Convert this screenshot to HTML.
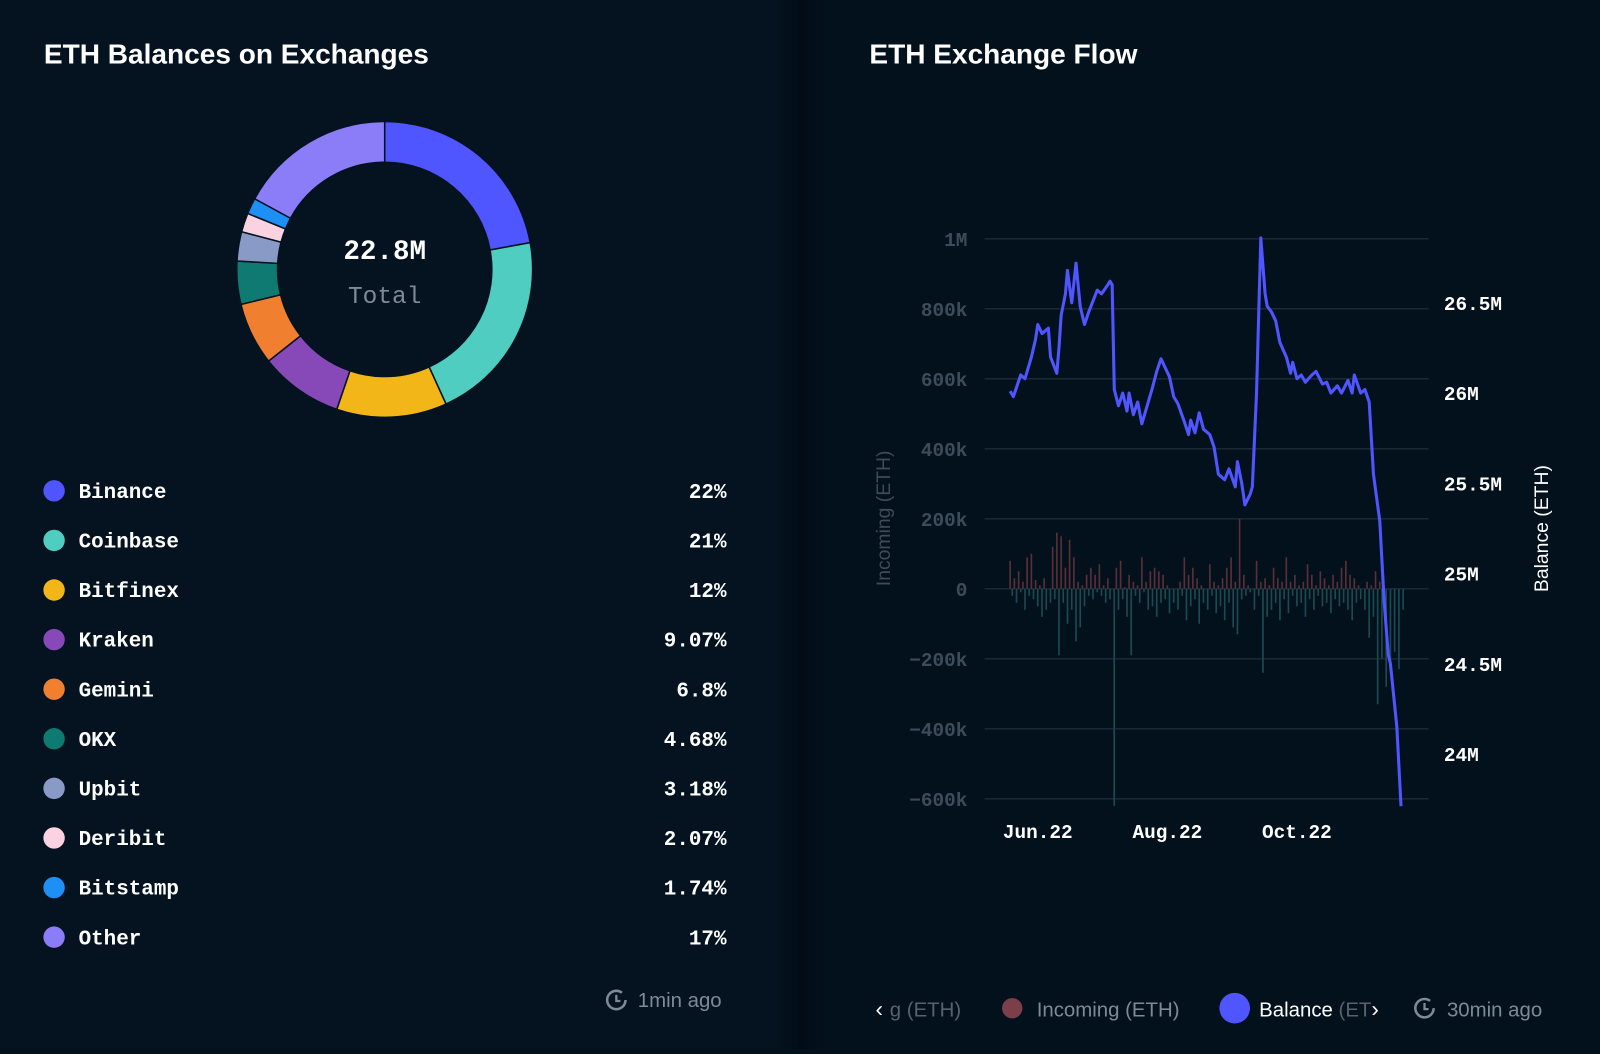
<!DOCTYPE html>
<html><head><meta charset="utf-8">
<style>
html,body{margin:0;padding:0;width:1600px;height:1049px;overflow:hidden;background:#03111d;}
#wrap{position:absolute;left:0;top:0;width:1568px;height:1028px;transform:scale(1.020408);transform-origin:0 0;}
.mono{font-family:"Liberation Mono","DejaVu Sans Mono",monospace;}
.sans{font-family:"Liberation Sans","DejaVu Sans",sans-serif;}
</style></head>
<body>
<div id="wrap">
<svg width="1568" height="1028" viewBox="0 0 1568 1028" xmlns="http://www.w3.org/2000/svg">
  <defs>
    <linearGradient id="div" x1="0" x2="1" y1="0" y2="0">
      <stop offset="0" stop-color="#04131f"/>
      <stop offset="0.5" stop-color="#020c16"/>
      <stop offset="1" stop-color="#03111d"/>
    </linearGradient>
  </defs>
  <rect x="0" y="0" width="760" height="1028" fill="#04131f"/>
  <rect x="760" y="0" width="50" height="1028" fill="url(#div)"/>
  <rect x="810" y="0" width="758" height="1028" fill="#03111d"/>

  <text x="43" y="62" class="sans" font-size="27.5" font-weight="bold" fill="#ffffff">ETH Balances on Exchanges</text>
  <text x="852" y="62" class="sans" font-size="27.5" font-weight="bold" fill="#ffffff">ETH Exchange Flow</text>

  <g id="donut"></g>
  <text x="377" y="254" text-anchor="middle" class="mono" font-size="27" font-weight="bold" fill="#ffffff">22.8M</text>
  <text x="377" y="297" text-anchor="middle" class="mono" font-size="24" fill="#7d8b96">Total</text>

  <g id="legend"></g>

  <g>
    <circle cx="604" cy="980" r="9" fill="none" stroke="#7d8b96" stroke-width="2.5" stroke-dasharray="48 9"/>
    <path d="M604 975 V981 H608" fill="none" stroke="#7d8b96" stroke-width="2.2"/>
    <text x="625" y="987" class="sans" font-size="20" fill="#7d8b96">1min ago</text>
  </g>

  <g id="flow"></g>

  <g>
    <text x="858" y="996" class="sans" font-size="22" fill="#ffffff">‹</text>
    <text x="872" y="996" class="sans" font-size="20" fill="#56636e">g (ETH)</text>
    <circle cx="992" cy="988" r="10" fill="#7a3f48"/>
    <text x="1016" y="996" class="sans" font-size="20" fill="#7d8b96">Incoming (ETH)</text>
    <circle cx="1210" cy="988" r="15" fill="#4f56ff"/>
    <text x="1234" y="996" class="sans" font-size="20" fill="#ffffff">Balance <tspan fill="#56636e">(ET</tspan></text>
    <text x="1344" y="996" class="sans" font-size="22" fill="#ffffff">›</text>
    <circle cx="1396" cy="988" r="9" fill="none" stroke="#7d8b96" stroke-width="2.5" stroke-dasharray="48 9"/>
    <path d="M1396 983 V989 H1400" fill="none" stroke="#7d8b96" stroke-width="2.2"/>
    <text x="1418" y="996" class="sans" font-size="20" fill="#7d8b96">30min ago</text>
  </g>
</svg>
</div>
<script>
const NS="http://www.w3.org/2000/svg";
function mk(tag,attrs,parent){const e=document.createElementNS(NS,tag);for(const k in attrs)e.setAttribute(k,attrs[k]);parent.appendChild(e);return e;}

// ---- Donut data ----
const exchanges=["Binance","Coinbase","Bitfinex","Kraken","Gemini","OKX","Upbit","Deribit","Bitstamp","Other"];
const shares=[22,21,12,9.07,6.8,4.68,3.18,2.07,1.74,17];
const shareLabels=["22%","21%","12%","9.07%","6.8%","4.68%","3.18%","2.07%","1.74%","17%"];
const colors=["#4f56ff","#4ecdc0","#f2b619","#8748b8","#f07f30","#0f7a72","#8a9ac6","#fbd3e0","#1d8ff5","#8b7cf7"];

const donut=document.getElementById('donut');
const cx=377,cy=264,R=145,r=105;
const total=shares.reduce((a,b)=>a+b,0);
let a0=-Math.PI/2;
shares.forEach((v,i)=>{
  const a1=a0+v/total*2*Math.PI;
  const large=(a1-a0)>Math.PI?1:0;
  const p=(ang,rad)=>[cx+rad*Math.cos(ang),cy+rad*Math.sin(ang)];
  const [x0,y0]=p(a0,R),[x1,y1]=p(a1,R),[x2,y2]=p(a1,r),[x3,y3]=p(a0,r);
  const el=mk('path',{d:`M${x0} ${y0} A${R} ${R} 0 ${large} 1 ${x1} ${y1} L${x2} ${y2} A${r} ${r} 0 ${large} 0 ${x3} ${y3}Z`,fill:colors[i],stroke:"#04131f","stroke-width":1.5},donut);
  
  
  a0=a1;
});

const legend=document.getElementById('legend');
exchanges.forEach((n,i)=>{
  const y=481+48.6*i;
  const g=mk('g',{},legend);
  
  
  mk('circle',{cx:53,cy:y,r:10.5,fill:colors[i]},g);
  const t=mk('text',{x:77,y:y+7,class:'mono','font-size':20.5,'font-weight':'bold',fill:'#ffffff'},g);t.textContent=n;
  const p=mk('text',{x:712,y:y+7,class:'mono','font-size':20.5,'font-weight':'bold',fill:'#ffffff','text-anchor':'end'},g);p.textContent=shareLabels[i];
});

// ---- Flow chart data ----
const leftTicks=[1000,800,600,400,200,0,-200,-400,-600];
const leftTickLabels=["1M","800k","600k","400k","200k","0","\u2212200k","\u2212400k","\u2212600k"];
const rightTicks=[26.5,26,25.5,25,24.5,24];
const rightTickLabels=["26.5M","26M","25.5M","25M","24.5M","24M"];
const xTickDays=[0,61,122];
const xTickLabels=["Jun.22","Aug.22","Oct.22"];
// balance line: day offset from Jun 1, balance in M ETH
const balDays=[-13,-11.5,-8,-6,-3,-1,0,2,5,6,9,10,11,13,14,16,18,20,22,24,28,30,33,34,35,36,38,40,42,43,45,47,49,52,54,56,58,60,62,64,66,69,71,72,74,76,78,81,83,85,88,90,93,94,96,97.5,100,101,103,105,107,108,110,112,114,117,119,120,122,124,126,129,131,134,136,138,141,143,146,148,149,152,154,156,158,161,163,165,166,169,171];
const balVals=[26.01,25.98,26.1,26.08,26.2,26.3,26.38,26.33,26.36,26.2,26.11,26.25,26.43,26.55,26.68,26.5,26.72,26.48,26.38,26.45,26.57,26.55,26.6,26.62,26.6,26.02,25.93,26.0,25.9,26.0,25.88,25.95,25.83,25.95,26.03,26.12,26.19,26.14,26.09,25.98,25.94,25.84,25.77,25.85,25.78,25.89,25.8,25.77,25.7,25.55,25.52,25.58,25.48,25.62,25.5,25.38,25.44,25.48,26.0,26.86,26.55,26.48,26.45,26.4,26.28,26.2,26.11,26.17,26.08,26.1,26.06,26.1,26.12,26.05,26.06,26.0,26.04,26.0,26.07,26.0,26.1,26.0,26.02,25.95,25.55,25.29,24.85,24.55,24.5,24.15,23.71];
// daily net flows (k ETH), one bar every 2 days from day -13
const barStart=-13;
const incoming=[80,30,50,20,90,100,25,10,30,0,120,160,150,60,140,90,20,10,40,60,40,70,10,30,0,60,80,5,40,20,10,90,20,50,60,50,40,10,0,0,20,90,40,60,30,10,0,70,20,10,30,60,90,20,200,40,10,0,80,20,30,10,60,30,20,90,20,40,10,20,70,40,10,50,30,10,40,20,60,80,40,30,10,0,20,10,50,20,10,0,0,0,0];
const outgoing=[-20,-40,-10,-60,-20,-30,-50,-80,-60,-40,-30,-190,-40,-100,-60,-150,-110,-50,-20,-30,-10,-20,-40,-30,-620,-60,-30,-80,-190,-20,-40,-10,-60,-50,-80,-40,-30,-70,-40,-60,-20,-90,-50,-30,-100,-40,-60,-20,-70,-50,-90,-40,-110,-130,-30,-20,-10,-60,-20,-240,-80,-60,-40,-90,-30,-70,-20,-50,-40,-80,-30,-60,-20,-50,-40,-70,-30,-50,-40,-60,-90,-40,-30,-60,-140,-80,-330,-200,-280,-220,-180,-230,-60];

const flow=document.getElementById('flow');
const plotL=965,plotR=1400;
const yL=v=>577-v*(343/1000);          // k ETH -> px
const yR=v=>562-(v-25)*176.8;          // M ETH -> px
const xD=d=>1017+d*(127/61);           // day -> px

leftTicks.forEach((t,i)=>{
  const gl=mk('line',{x1:plotL,x2:plotR,y1:yL(t),y2:yL(t),stroke:'#1b2b38','stroke-width':1.3},flow);
  
  
  const tx=mk('text',{x:948,y:yL(t)+7,'text-anchor':'end',class:'mono','font-size':19,'font-weight':'bold',fill:'#3c4c59'},flow);
  tx.textContent=leftTickLabels[i];
  
  
});
rightTicks.forEach((t,i)=>{
  const tx=mk('text',{x:1415,y:yR(t)+7,class:'mono','font-size':19,'font-weight':'bold',fill:'#ffffff'},flow);
  tx.textContent=rightTickLabels[i];
  
  
});
xTickDays.forEach((d,i)=>{
  const tx=mk('text',{x:xD(d),y:821,'text-anchor':'middle',class:'mono','font-size':19,'font-weight':'bold',fill:'#ffffff'},flow);
  tx.textContent=xTickLabels[i];
  
  
});
const yt=mk('text',{x:0,y:0,transform:'translate(872,508) rotate(-90)','text-anchor':'middle',class:'sans','font-size':19,fill:'#3c4c59'},flow);
yt.textContent='Incoming (ETH)';


const yt2=mk('text',{x:0,y:0,transform:'translate(1517,518) rotate(-90)','text-anchor':'middle',class:'sans','font-size':19,fill:'#ffffff'},flow);
yt2.textContent='Balance (ETH)';



incoming.forEach((v,i)=>{
  const x=xD(barStart+2*i);
  const b=mk('rect',{x:x-0.8,y:yL(v),width:1.6,height:Math.max(0,yL(0)-yL(v)),fill:'#5a2f38'},flow);
  
  
});
outgoing.forEach((v,i)=>{
  const x=xD(barStart+2*i+1);
  const b=mk('rect',{x:x-0.8,y:yL(0),width:1.6,height:Math.max(0,yL(v)-yL(0)),fill:'#1b4b52'},flow);
  
  
});
const n=Math.min(balDays.length,balVals.length);
const pts=[];
for(let i=0;i<n;i++)pts.push(xD(balDays[i]).toFixed(1)+','+yR(balVals[i]).toFixed(1));
const line=mk('polyline',{points:pts.join(' '),fill:'none',stroke:'#4f56ff','stroke-width':3,'stroke-linejoin':'round'},flow);


</script>
</body></html>
